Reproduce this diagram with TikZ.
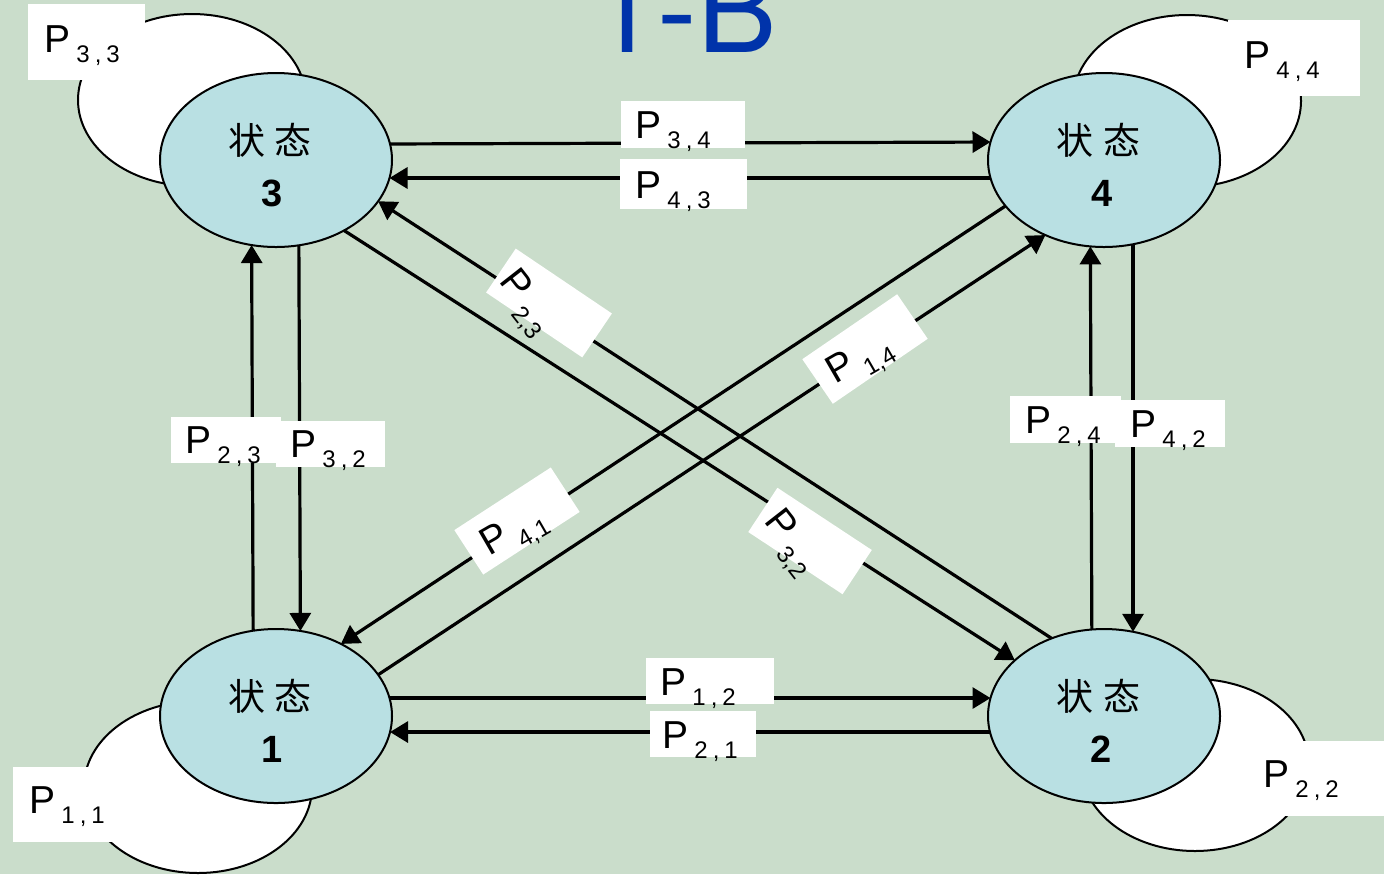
\documentclass[tikz,border=0pt]{standalone}
\usepackage{fontspec}
\setmainfont{Liberation Sans}
\newfontfamily\cjkfont{Noto Sans CJK SC}
\newfontfamily\titlefont{TeX Gyre Heros}
\usetikzlibrary{shapes.geometric,arrows.meta}

\definecolor{bgcol}{RGB}{202,221,203}
\definecolor{statecol}{RGB}{185,224,227}
\definecolor{titlecol}{RGB}{0,51,170}

% transition probability labels: P with a spaced subscript
\newcommand\plab[2]{P\hspace{3pt}\raisebox{-5.25pt}{\fontsize{12}{12}\selectfont #1\hspace{2.5pt},\hspace{2.5pt}#2}}
\newcommand\pdiag[2]{P\hspace{3.5pt}\raisebox{-5.25pt}{\fontsize{12}{12}\selectfont #1,#2}}

\tikzset{
  statenode/.style={ellipse, draw=black, line width=1pt, fill=statecol,
    minimum width=116pt, minimum height=87pt, inner sep=0pt, outer sep=0pt},
  loopnode/.style={ellipse, draw=black, line width=1pt, fill=white,
    minimum width=114pt, minimum height=86pt, inner sep=0pt, outer sep=0pt},
  labbox/.style={fill=white, inner sep=0pt, outer sep=0pt},
  labtext/.style={anchor=base west, inner sep=0pt, font=\fontsize{19.5}{20}\selectfont},
  diagtext/.style={inner sep=0pt, font=\fontsize{19.5}{20}\selectfont},
  cjktext/.style={inner sep=0pt, font=\cjkfont\fontsize{18.5}{19}\selectfont},
  numtext/.style={inner sep=0pt, font=\bfseries\fontsize{19}{20}\selectfont},
  arr/.style={line width=1.6pt, -{Triangle[length=9pt,width=10.5pt]}},
}

\begin{document}
\begin{tikzpicture}[x=0.5pt, y=-0.5pt]
  \useasboundingbox (0,0) rectangle (1384,874);
  \fill[bgcol] (0,0) rectangle (1384,874);

  % title, cut at the top edge
  \node[anchor=base west, inner sep=0pt, text=titlecol,
        font=\titlefont\fontsize{59.5}{60}\selectfont] (title) at (591,52) {1-B};

  % self loops
  \node[loopnode] (l3) at (192,100) {};
  \node[loopnode] (l4) at (1187,101) {};
  \node[loopnode] (l1) at (198,787) {};
  \node[loopnode] (l2) at (1195,765) {};

  % self loop labels
  \node[labbox, minimum width=58.5pt, minimum height=38pt] (b33) at (86.5,42) {};
  \node[labtext] (t33) at (44,52) {\plab{3}{3}};
  \node[labbox, minimum width=66pt, minimum height=38pt] (b44) at (1294,58) {};
  \node[labtext] (t44) at (1244,68) {\plab{4}{4}};
  \node[labbox, minimum width=49.5pt, minimum height=37.5pt] (b11) at (62.5,804.5) {};
  \node[labtext] (t11) at (29,813) {\plab{1}{1}};
  \node[labbox, minimum width=67pt, minimum height=37.5pt] (b22) at (1317,778.5) {};
  \node[labtext] (t22) at (1263,787) {\plab{2}{2}};

  % states
  \node[statenode] (s3) at (276,160) {};
  \node[statenode] (s4) at (1104,160) {};
  \node[statenode] (s1) at (276,716) {};
  \node[statenode] (s2) at (1104,716) {};

  \node[cjktext] (c3) at (270,140) {状\hspace{5pt}态};
  \node[numtext] (n3) at (272,193) {3};
  \node[cjktext] (c4) at (1098,140) {状\hspace{5pt}态};
  \node[numtext] (n4) at (1102,193) {4};
  \node[cjktext] (c1) at (270,696) {状\hspace{5pt}态};
  \node[numtext] (n1) at (272,749) {1};
  \node[cjktext] (c2) at (1098,696) {状\hspace{5pt}态};
  \node[numtext] (n2) at (1101,749) {2};

  % horizontal transitions
  \draw[arr] (s3.8.5) -- (s4.171.5);
  \draw[arr] (s4.189) -- (s3.351);
  \draw[arr] (s1.9) -- (s2.171);
  \draw[arr] (s2.188) -- (s1.352);

  % vertical transitions
  \draw[arr] (s1.105.75) -- (s3.254.25);
  \draw[arr] (s3.285.75) -- (s1.74.25);
  \draw[arr] (s2.98.6) -- (s4.261.4);
  \draw[arr] (s4.289) -- (s2.71);

  % diagonal transitions
  \draw[arr] (s2.124.3) -- (s3.338.9);
  \draw[arr] (s3.314.6) -- (s2.148.4);
  \draw[arr] (s1.22.7) -- (s4.232);
  \draw[arr] (s4.205.3) -- (s1.48);

  % labels on horizontal transitions
  \node[labbox, minimum width=62pt, minimum height=23.5pt] (b34) at (683,124.5) {};
  \node[labtext] (t34) at (635,138) {\plab{3}{4}};
  \node[labbox, minimum width=63.5pt, minimum height=25pt] (b43) at (683.5,184) {};
  \node[labtext] (t43) at (635,198) {\plab{4}{3}};
  \node[labbox, minimum width=64pt, minimum height=23pt] (b12) at (710,681) {};
  \node[labtext] (t12) at (660,695) {\plab{1}{2}};
  \node[labbox, minimum width=53pt, minimum height=23pt] (b21) at (703,734) {};
  \node[labtext] (t21) at (662,748) {\plab{2}{1}};

  % labels on vertical transitions
  \node[labbox, minimum width=55pt, minimum height=23pt] (b23v) at (226,440) {};
  \node[labtext] (t23v) at (185,453) {\plab{2}{3}};
  \node[labbox, minimum width=54.5pt, minimum height=23pt] (b32v) at (330.5,444) {};
  \node[labtext] (t32v) at (290,457) {\plab{3}{2}};
  \node[labbox, minimum width=55.5pt, minimum height=23.5pt] (b24) at (1065.5,419.5) {};
  \node[labtext] (t24) at (1025,433) {\plab{2}{4}};
  \node[labbox, minimum width=55pt, minimum height=23.5pt] (b42) at (1170,423.5) {};
  \node[labtext] (t42) at (1130,437) {\plab{4}{2}};

  % labels on diagonal transitions
  \node[labbox, minimum width=58pt, minimum height=26.5pt, rotate=-34] (b23d) at (549,303) {};
  \node[diagtext, rotate=-52] (t23d) at (524,304) {\pdiag{2}{3}};
  \node[labbox, minimum width=56.5pt, minimum height=26.5pt, rotate=-33.4] (b32d) at (810,541) {};
  \node[diagtext, rotate=-52] (t32d) at (789,544) {\pdiag{3}{2}};
  \node[labbox, minimum width=57.5pt, minimum height=27pt, rotate=34.4] (b14) at (865,349) {};
  \node[diagtext, rotate=30] (t14) at (861,362) {\pdiag{1}{4}};
  \node[labbox, minimum width=57.5pt, minimum height=26.5pt, rotate=33] (b41) at (517,521) {};
  \node[diagtext, rotate=30] (t41) at (515,534) {\pdiag{4}{1}};
\end{tikzpicture}
\end{document}
